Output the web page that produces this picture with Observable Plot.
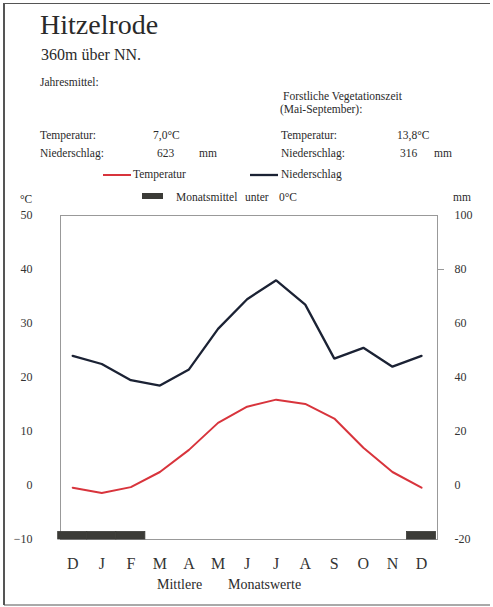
<!DOCTYPE html>
<html>
<head>
<meta charset="utf-8">
<script src="https://cdn.jsdelivr.net/npm/d3@7"></script>
<script src="https://cdn.jsdelivr.net/npm/@observablehq/plot@0.6"></script>
<style>
  html, body { margin: 0; padding: 0; background: #fff; }
  #chart svg { display: block; }
</style>
</head>
<body>
<div id="chart"></div>
<script>
// Data
const monthLabels = ["D","J","F","M","A","M","J","J","A","S","O","N","D"];
const temperature = [-0.4, -1.4, -0.3, 2.5, 6.6, 11.6, 14.6, 15.9, 15.1, 12.4, 7.0, 2.5, -0.4]; // °C
const precipitation = [48, 45, 39, 37, 43, 58, 69, 76, 67, 47, 51, 44, 48]; // mm
const leftTicks = [-10, 0, 10, 20, 30, 40, 50];   // °C
const rightTicks = [-20, 0, 20, 40, 60, 80, 100]; // mm

const stationName = "Hitzelrode";
const altitude = "360m über NN.";
const annualTemp = "7,0°C", annualPrecip = "623", vegTemp = "13,8°C", vegPrecip = "316";

const rows = monthLabels.map((m, i) => ({i, m, t: temperature[i], p: precipitation[i]}));

const W = 493, H = 607;
const font = "Liberation Serif, Times New Roman, serif";
const barColor = "#3b3b37";

const plot = Plot.plot({
  width: W,
  height: H,
  marginLeft: 60,
  marginRight: 56,
  marginTop: 215,
  marginBottom: 68,
  style: {fontFamily: font, fontSize: "12px", color: "#333", background: "transparent"},
  x: {type: "linear", domain: [-0.42, 12.55]},
  y: {domain: [-10, 50]},
  marks: [
    Plot.frame({stroke: "#999", strokeWidth: 1}),
    Plot.rect(rows.filter(d => d.t < 0), {
      x1: d => d.i - 0.5, x2: d => d.i + 0.5,
      y1: -10, y2: -8.6, fill: barColor, stroke: barColor, strokeWidth: 0.8
    }),
    Plot.line(rows, {x: "i", y: d => d.p / 2, stroke: "#1b2234", strokeWidth: 2.3, strokeLinejoin: "miter"}),
    Plot.line(rows, {x: "i", y: "t", stroke: "#d8343c", strokeWidth: 2, strokeLinejoin: "miter"}),
    Plot.axisY({anchor: "left", ticks: leftTicks, tickSize: 0, tickPadding: 28, label: null, fontSize: 12}),
    Plot.axisY({anchor: "right", ticks: leftTicks, tickFormat: d => String(d * 2), tickSize: 0, tickPadding: 17, label: null, fontSize: 12}),
    Plot.axisY({anchor: "right", ticks: [rightTicks[5] / 2], tickFormat: () => "", tickSize: 6, stroke: "#999", label: null}),
    Plot.axisX({ticks: rows.map(d => d.i), tickFormat: i => monthLabels[i], tickSize: 0, tickPadding: 18, label: null, fontSize: 16})
  ]
});
document.getElementById("chart").appendChild(plot);

// Header texts, legend and border
const svg = d3.select(plot);
const g = svg.append("g").attr("font-family", font).attr("fill", "#2a2a2a");
function txt(x, y, s, size, anchor) {
  g.append("text").attr("x", x).attr("y", y).attr("font-size", size)
    .attr("text-anchor", anchor || "start").text(s);
}
txt(40, 34, stationName, 28);
txt(41, 60, altitude, 16);
txt(40, 86, "Jahresmittel:", 11.5);
txt(283, 100, "Forstliche Vegetationszeit", 11.5);
txt(280, 113, "(Mai-September):", 11.5);
txt(40, 139, "Temperatur:", 11.5);
txt(153, 139, annualTemp, 11.5);
txt(281, 139, "Temperatur:", 11.5);
txt(397, 139, vegTemp, 11.5);
txt(40, 157, "Niederschlag:", 11.5);
txt(157, 157, annualPrecip, 11.5);
txt(199, 157, "mm", 11.5);
txt(281, 157, "Niederschlag:", 11.5);
txt(400, 157, vegPrecip, 11.5);
txt(434, 157, "mm", 11.5);

// legend
g.append("line").attr("x1", 103).attr("x2", 131).attr("y1", 175).attr("y2", 175)
  .attr("stroke", "#d8343c").attr("stroke-width", 2);
txt(133, 178, "Temperatur", 11.5);
g.append("line").attr("x1", 250).attr("x2", 278).attr("y1", 175).attr("y2", 175)
  .attr("stroke", "#1b2234").attr("stroke-width", 2.3);
txt(281, 178, "Niederschlag", 11.5);
g.append("rect").attr("x", 142).attr("y", 193).attr("width", 21).attr("height", 6).attr("fill", barColor);
txt(176, 201, "Monatsmittel", 11.5);
txt(245, 201, "unter", 11.5);
txt(279, 201, "0°C", 11.5);

// unit labels
txt(20, 203, "°C", 11.5);
txt(453, 201, "mm", 11.5);

// x caption
txt(157, 589, "Mittlere", 14);
txt(228, 589, "Monatswerte", 14);

// outer border (left, top, bottom)
const b = svg.append("g").attr("stroke", "#555").attr("fill", "none");
b.append("line").attr("x1", 4).attr("x2", 4).attr("y1", 3).attr("y2", 605).attr("stroke-width", 2);
b.append("line").attr("x1", 4).attr("x2", 490).attr("y1", 3.5).attr("y2", 3.5).attr("stroke-width", 1.2);
b.append("line").attr("x1", 4).attr("x2", 490).attr("y1", 605).attr("y2", 605).attr("stroke-width", 1.2);
</script>
</body>
</html>
